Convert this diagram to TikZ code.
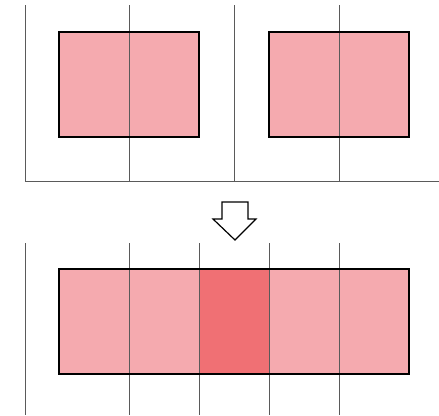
\documentclass[tikz,border=0pt]{standalone}
\definecolor{cellpink}{RGB}{245,170,175}
\definecolor{celldark}{RGB}{240,112,116}
\definecolor{gridgray}{RGB}{90,90,90}
\tikzset{
  gridline/.style={draw=gridgray, line width=1pt},
  cellbox/.style={fill=cellpink, draw=none},
  darkcell/.style={fill=celldark, draw=none},
  outline/.style={draw=black, line width=1.5pt},
  arrowshape/.style={draw=black, line width=1.2pt, fill=white, line join=miter}
}
\begin{document}
\begin{tikzpicture}[x=1pt,y=-1pt]
\useasboundingbox (0,0) rectangle (439,415);
% ---- top section ----
\fill[cellpink] (59,32) rectangle (199,137);
\fill[cellpink] (269,32) rectangle (409,137);
\foreach \x in {25,129,234,339} {\draw[gridline] (\x,5) -- (\x,181);}
\draw[gridline] (25,181) -- (439,181);
\draw[outline] (59,32) rectangle (199,137);
\draw[outline] (269,32) rectangle (409,137);
% ---- arrow ----
\draw[arrowshape] (222,202) -- (248,202) -- (248,219) -- (256,219) -- (235,240) -- (213,219) -- (222,219) -- cycle;
% ---- bottom section ----
\fill[cellpink] (59,269) rectangle (409,374);
\fill[celldark] (199.5,269) rectangle (269,374);
\foreach \x in {25,129,199.5,269,339} {\draw[gridline] (\x,243) -- (\x,415);}
\draw[outline] (59,269) rectangle (409,374);
\end{tikzpicture}
\end{document}
